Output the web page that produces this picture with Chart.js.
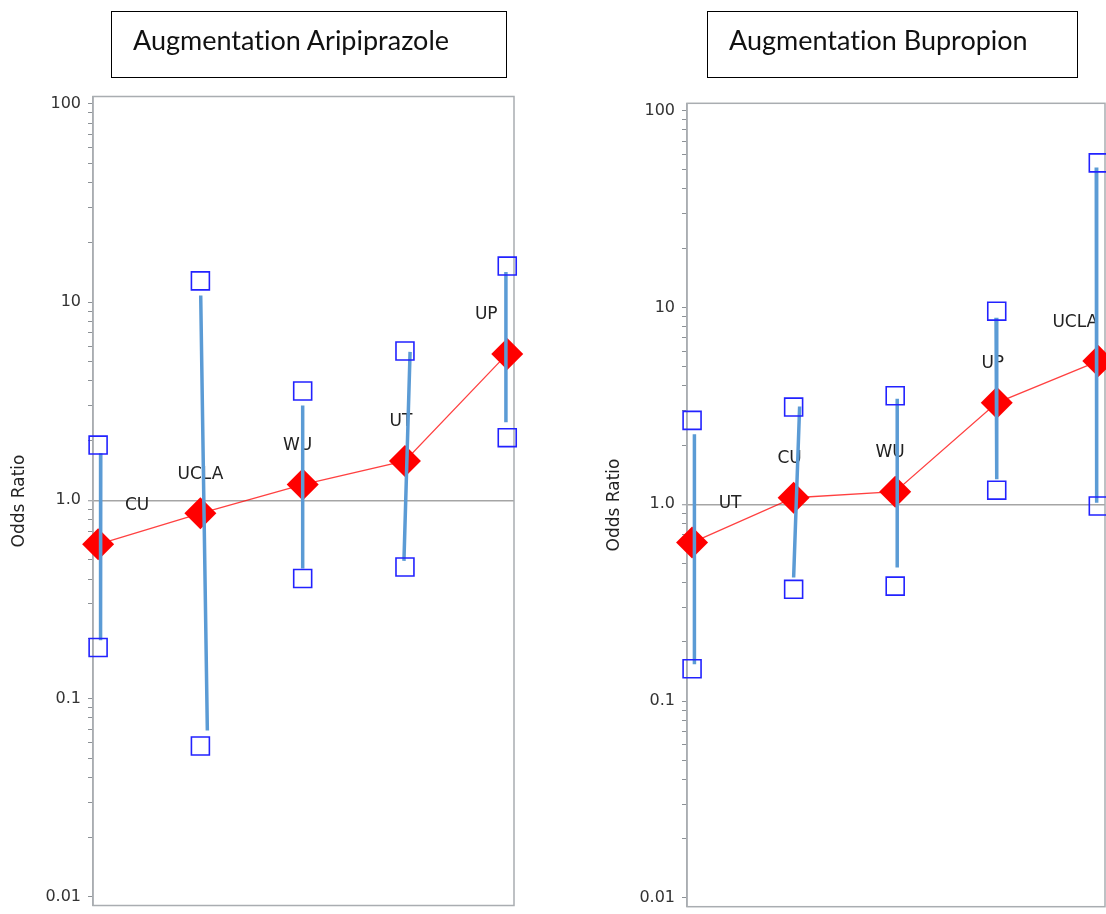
<!DOCTYPE html>
<html>
<head>
<meta charset="utf-8">
<script src="https://cdn.jsdelivr.net/npm/chart.js@4.4.1/dist/chart.umd.min.js"></script>
<style>
  body { margin: 0; background: #fff; width: 1106px; height: 914px; overflow: hidden; position: relative; }
  .panel { position: absolute; top: 0; width: 553px; height: 914px; }
  .title-box {
    position: absolute; box-sizing: border-box; border: 1px solid #000;
    font-family: Lato, sans-serif; font-size: 27px; line-height: 27px; color: #111;
    font-variant-ligatures: none; font-feature-settings: "liga" 0;
    padding: 14px 0 0 21px; white-space: nowrap;
  }
</style>
</head>
<body>
<div class="panel" style="left:0"><canvas id="chartAri" width="553" height="914"></canvas></div>
<div class="panel" style="left:553px"><canvas id="chartBup" width="553" height="914"></canvas></div>
<div class="title-box" style="left:111px; top:11px; width:396px; height:67px">Augmentation Aripiprazole</div>
<div class="title-box" style="left:707px; top:11px; width:371px; height:67px">Augmentation Bupropion</div>
<script>
// Aripiprazole panel
const ariSites = ['CU', 'UCLA', 'WU', 'UT', 'UP'];
const ariOR = [0.60, 0.86, 1.20, 1.58, 5.48];
const ariUpper = [1.90, 12.8, 3.56, 5.67, 15.2];
const ariLower = [0.181, 0.0576, 0.403, 0.461, 2.07];
const ariBarTop = [1.73, 10.8, 3.01, 5.61, 14.2];
const ariBarBottom = [0.197, 0.069, 0.453, 0.495, 2.48];

// Bupropion panel
const bupSites = ['UT', 'CU', 'WU', 'UP', 'UCLA'];
const bupOR = [0.639, 1.08, 1.16, 3.28, 5.34];
const bupUpper = [2.67, 3.12, 3.56, 9.58, 54.3];
const bupLower = [0.146, 0.370, 0.384, 1.18, 0.98];
const bupBarTop = [2.27, 3.14, 3.44, 8.87, 51.5];
const bupBarBottom = [0.154, 0.425, 0.477, 1.34, 1.02];

const decadeTicks = [0.01, 0.1, 1, 10, 100];
const decadeLabels = ['0.01', '0.1', '1.0', '10', '100'];

const yMin = 0.00903, yMax = 109;

// minor ticks 2..9 inside every decade
const axisTicks = [];
decadeTicks.forEach(d => {
  for (let k = 1; k <= 9; k++) {
    const v = Number((d * k).toPrecision(6));
    if (v >= yMin && v <= yMax) axisTicks.push(v);
  }
});

Chart.defaults.font.family = '"DejaVu Sans", sans-serif';

const framePlugin = {
  id: 'frame',
  beforeDatasetsDraw(chart) {
    const a = chart.chartArea, ctx = chart.ctx;
    ctx.save();
    ctx.strokeStyle = '#a9adb1';
    ctx.lineWidth = 1.5;
    ctx.strokeRect(a.left, a.top, a.right - a.left, a.bottom - a.top);
    ctx.restore();
  }
};

const labelPlugin = {
  id: 'siteLabels',
  beforeDatasetsDraw(chart, args, opts) {
    const meta = chart.getDatasetMeta(0), ctx = chart.ctx;
    ctx.save();
    ctx.font = '17px "DejaVu Sans", sans-serif';
    ctx.fillStyle = '#222';
    ctx.textAlign = 'center';
    ctx.textBaseline = 'middle';
    opts.names.forEach((n, i) => {
      const p = meta.data[i];
      ctx.fillText(n, p.x + opts.dx[i], p.y + opts.dy);
    });
    ctx.restore();
  }
};

function makeChart(id, sites, or, upper, lower, barTop, barBottom, look) {
  const pts = arr => arr.map((v, i) => ({ x: i, y: v }));
  const whisker = [];
  sites.forEach((s, i) => {
    whisker.push({ x: i + look.topShift[i], y: barTop[i] });
    whisker.push({ x: i + look.bottomShift[i], y: barBottom[i] });
    whisker.push({ x: i, y: null });
  });
  const square = {
    showLine: false, pointStyle: 'rect', pointRadius: 12.7, pointHoverRadius: 12.7,
    pointBorderColor: '#2222ff', pointBackgroundColor: 'rgba(0,0,0,0)', pointBorderWidth: 1.6,
    order: 1, clip: false
  };
  return new Chart(document.getElementById(id), {
    type: 'line',
    data: {
      datasets: [
        { data: pts(or), borderColor: 'rgba(255,0,0,0.75)', borderWidth: 1.3, pointStyle: 'rectRot',
          pointRadius: 16, pointHoverRadius: 16, pointBackgroundColor: '#ff0000', pointBorderWidth: 0, order: 3, clip: false },
        { data: whisker, borderColor: '#5b9bd5', borderWidth: 3.5, pointRadius: 0, spanGaps: false, order: 2, clip: false },
        Object.assign({ data: pts(upper) }, square),
        Object.assign({ data: pts(lower) }, square)
      ]
    },
    options: {
      responsive: false,
      animation: false,
      layout: { padding: look.padding, autoPadding: false },
      plugins: {
        legend: { display: false },
        tooltip: { enabled: false },
        siteLabels: { names: sites, dx: look.labelDx, dy: -39 }
      },
      scales: {
        x: { type: 'linear', display: false, min: -0.05, max: 4.066 },
        y: {
          type: 'logarithmic', min: yMin, max: yMax, bounds: 'data',
          afterBuildTicks: scale => { scale.ticks = axisTicks.map(v => ({ value: v })); },
          afterFit: scale => { scale.width = 93; scale.paddingTop = 0; scale.paddingBottom = 0; },
          ticks: {
            autoSkip: false, padding: 7, color: '#333', font: { size: 16 },
            callback: v => { const k = decadeTicks.indexOf(v); return k < 0 ? '' : decadeLabels[k]; }
          },
          grid: {
            color: c => (c.tick && c.tick.value === 1) ? '#a5a5a5' : 'rgba(0,0,0,0)',
            lineWidth: c => (c.tick && c.tick.value === 1) ? 1.5 : 1,
            tickColor: '#8c9196', tickLength: 5, tickWidth: 1
          },
          border: { color: '#a9adb1', width: 1.5 },
          title: { display: true, text: 'Odds Ratio', color: '#222', font: { size: 17 }, padding: { top: look.titlePad, bottom: 0 } }
        }
      }
    },
    plugins: [framePlugin, labelPlugin]
  });
}

makeChart('chartAri', ariSites, ariOR, ariUpper, ariLower, ariBarTop, ariBarBottom, {
  padding: { left: 0, top: 96.5, right: 39, bottom: 8.5 },
  titlePad: 9,
  labelDx: [39, 0, -5, -4, -21],
  topShift: [0.026, 0.003, 0, 0.05, -0.013],
  bottomShift: [0.024, 0.068, 0, -0.01, -0.013]
});

makeChart('chartBup', bupSites, bupOR, bupUpper, bupLower, bupBarTop, bupBarBottom, {
  padding: { left: 41, top: 103.3, right: 1, bottom: 7.3 },
  titlePad: 10,
  labelDx: [38, -4, -5, -4, -23],
  topShift: [0.023, 0.059, 0.02, -0.007, -0.02],
  bottomShift: [0.023, 0, 0.02, 0, -0.016]
});
</script>
</body>
</html>
